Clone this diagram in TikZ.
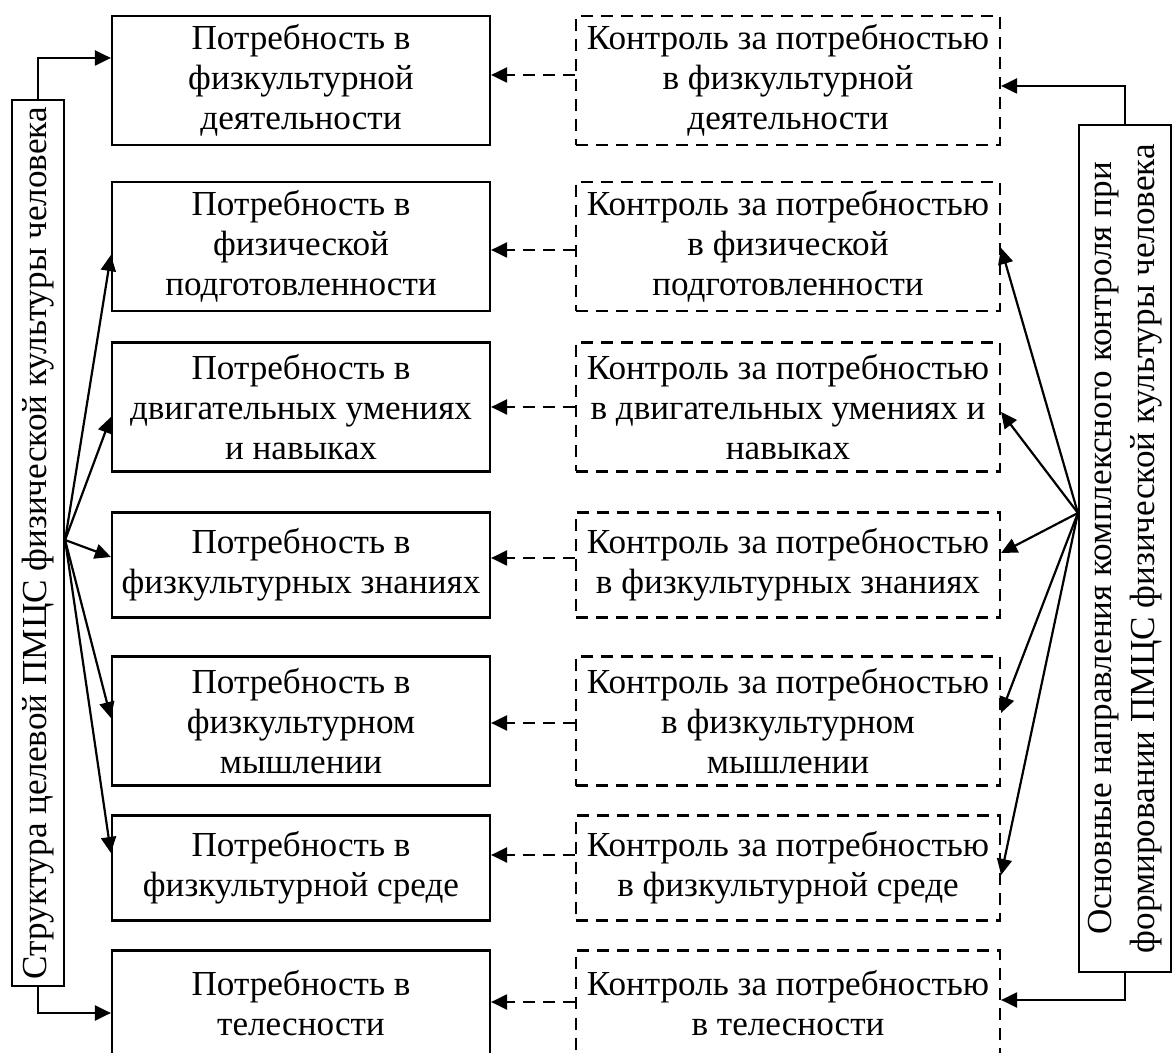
\documentclass[tikz,border=0pt]{standalone}
\usepackage{fontspec}
\setmainfont{Liberation Serif}
\usetikzlibrary{arrows.meta}
\tikzset{
  >={Triangle[length=3.2mm,width=3mm]},
  pb/.style={draw,minimum width=7.56cm,align=center,inner sep=0pt},
  kb/.style={pb,dsh,minimum width=8.48cm},
  vb/.style={draw,rotate=90,align=center,inner sep=0pt},
  h3/.style={minimum height=2.58cm},
  h2/.style={minimum height=2.1cm},
  dsh/.style={dash pattern=on 2.4mm off 1.6mm},
  every picture/.style={line width=1.25pt,font=\fontsize{20}{22.8}\selectfont},
}
\begin{document}
\begin{tikzpicture}
\useasboundingbox (0,0) rectangle (23.5,21.04);
% needs
\node[pb,h3] (p1) at (6.02,19.43){Потребность в\\физкультурной\\деятельности};
\node[pb,h3] (p2) at (6.02,16.11){Потребность в\\физической\\подготовленности};
\node[pb,h3] (p3) at (6.02,12.90){Потребность в\\двигательных умениях\\и навыках};
\node[pb,h2] (p4) at (6.02,9.74){Потребность в\\физкультурных знаниях};
\node[pb,h3] (p5) at (6.02,6.62){Потребность в\\физкультурном\\мышлении};
\node[pb,h2] (p6) at (6.02,3.68){Потребность в\\физкультурной среде};
\node[pb,h2] (p7) at (6.02,0.98){Потребность в\\телесности};
% control
\node[kb,h3] (k1) at (15.76,19.43){Контроль за потребностью\\в физкультурной\\деятельности};
\node[kb,h3] (k2) at (15.76,16.11){Контроль за потребностью\\в физической\\подготовленности};
\node[kb,h3] (k3) at (15.76,12.90){Контроль за потребностью\\в двигательных умениях и\\навыках};
\node[kb,h2] (k4) at (15.76,9.74){Контроль за потребностью\\в физкультурных знаниях};
\node[kb,h3] (k5) at (15.76,6.62){Контроль за потребностью\\в физкультурном\\мышлении};
\node[kb,h2] (k6) at (15.76,3.68){Контроль за потребностью\\в физкультурной среде};
\node[kb,h2] (k7) at (15.76,0.98){Контроль за потребностью\\в телесности};
% side boxes
\node[vb,minimum width=17.72cm,minimum height=1.04cm] (lv) at (0.76,10.18){Структура целевой ПМЦС физической культуры человека};
\node[vb,minimum width=16.94cm,minimum height=1.84cm,font=\fontsize{20}{24.4}\selectfont] (rv) at (22.5,10.07){Основные направления комплексного контроля при\\формировании ПМЦС физической культуры человека};
\coordinate (lo) at ([yshift=.06cm]lv.south);
\coordinate (ro) at ([yshift=.71cm]rv.north);
% left arrows
\draw[->] (lv.east) |- ([yshift=.45cm]p1.west);
\draw[->] (lo) -- ([yshift=-.17cm]p2.west); \draw[->] (lo) -- ([yshift=-.2cm]p3.west);
\draw[->] (lo) -- ([yshift=.16cm]p4.west); \draw[->] (lo) -- ([yshift=.06cm]p5.west);
\draw[->] (lo) -- ([yshift=.3cm]p6.west);
\draw[->] (lv.west) |- ([yshift=-.2cm]p7.west);
% right arrows
\draw[->] (rv.east) |- ([yshift=-.11cm]k1.east);
\draw[->] (ro) -- ([yshift=-.03cm]k2.east); \draw[->] (ro) -- ([yshift=-.1cm]k3.east);
\draw[->] (ro) -- ([yshift=.24cm]k4.east); \draw[->] (ro) -- ([yshift=.16cm]k5.east);
\draw[->] (ro) -- ([yshift=-.14cm]k6.east);
\draw[->] (rv.west) |- ([yshift=.06cm]k7.east);
% dashed links
\draw[dsh,->] ([yshift=.11cm]k1.west) -- ([yshift=.11cm]p1.east);
\draw[dsh,->] ([yshift=-.07cm]k2.west) -- ([yshift=-.07cm]p2.east);
\draw[dsh,->] (k3.west) -- (p3.east);
\draw[dsh,->] ([yshift=.14cm]k4.west) -- ([yshift=.14cm]p4.east);
\draw[dsh,->] ([yshift=-.04cm]k5.west) -- ([yshift=-.04cm]p5.east);
\draw[dsh,->] ([yshift=.26cm]k6.west) -- ([yshift=.26cm]p6.east);
\draw[dsh,->] ([yshift=.02cm]k7.west) -- ([yshift=.02cm]p7.east);
\end{tikzpicture}
\end{document}
